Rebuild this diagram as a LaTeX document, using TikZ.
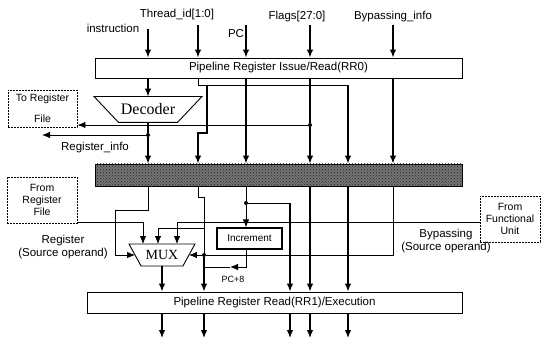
\documentclass[tikz,border=0pt]{standalone}
\usepackage{fontspec}
\setmainfont{Liberation Serif}
\setsansfont{Liberation Sans}
\usepackage{tikz}
\usetikzlibrary{arrows.meta}
\usetikzlibrary{calc, patterns}
\tikzstyle{reg}=[rectangle, draw, minimum height=20pt, inner sep=0pt]
\tikzstyle{ext}=[rectangle, draw, dash pattern=on 2pt off 1pt, align=center, inner sep=0pt, font=\sffamily\fontsize{10.5}{12}\selectfont]
\tikzstyle{junction}=[circle, fill, inner sep=0pt, minimum size=4pt]
\tikzstyle{bus}=[->, line width=1.3pt]

\begin{document}
\begin{tikzpicture}[x=1pt, y=-1pt]

\tikzset{>={Latex[length=8pt, width=6.5pt]}}
\tikzset{every node/.style={font=\sffamily\fontsize{11.5pt}{13pt}\selectfont}}
\tikzset{every path/.style={line width=0.9pt}}

\useasboundingbox (0,0) rectangle (542,345);

% Pipeline registers
\node[reg, minimum width=367pt] (rrzero) at (278.5,68) {Pipeline Register Issue/Read(RR0)};
\node[reg, minimum width=367pt, minimum height=22pt, fill=black!55,
      postaction={pattern=crosshatch dots, pattern color=black!85}] (bar) at (278.5,175) {};
\node[reg, minimum width=375pt, minimum height=21pt] (rrone) at (274.5,302.5) {Pipeline Register Read(RR1)/Execution};

% Decoder and MUX
\node[minimum width=58pt, minimum height=25pt, inner sep=0pt,
      font=\rmfamily\fontsize{16}{16}\selectfont] (decoder) at (148,109.5) {Decoder};
\draw (decoder.south west) -- (decoder.south east) -- ($(decoder.north east)+(24.5,0)$)
      -- ($(decoder.north west)+(-24.5,0)$) -- cycle;
\node[minimum width=41pt, minimum height=21pt, inner sep=0pt,
      font=\rmfamily\fontsize{14}{14}\selectfont] (mux) at (162,255) {MUX};
\draw (mux.south west) -- (mux.south east) -- ($(mux.north east)+(12,0)$)
      -- ($(mux.north west)+(-12,0)$) -- cycle;
\coordinate (muxl) at ($(mux.west)+(-6,0)$);
\coordinate (muxr) at ($(mux.east)+(6,0)$);
\node[draw, line width=1.2pt, minimum width=65pt, minimum height=21pt, inner sep=0pt,
      font=\sffamily\fontsize{10}{10}\selectfont] (incr) at (249.5,238.5) {Increment};

% Outside units
\node[ext, minimum width=69pt, minimum height=37pt] (toreg) at (42.5,108.5) {To Register\\[9pt]File};
\node[ext, minimum width=70pt, minimum height=46pt] (fromreg) at (42,200) {From\\Register\\File};
\node[ext, minimum width=60pt, minimum height=46pt] (fromfu) at (510,219) {From\\Functional\\Unit};

% Labels
\node (lblinst) at (113,28) {instruction};
\node (lbltid) at (177,15) {Thread\_id[1:0]};
\node (lblpc) at (236,34) {PC};
\node (lblflags) at (297,17) {Flags[27:0]};
\node (lblbyp) at (393,17) {Bypassing\_info};
\node (lblrinfo) at (95,148) {Register\_info};
\node[align=center] (lblreg) at (63,247) {Register\\(Source operand)};
\node[align=center] (lblfu) at (446,241) {Bypassing\\(Source operand)};
\node[font=\sffamily\fontsize{9}{9}\selectfont] (lblpceight) at (233,279) {PC+8};

% Inputs of RR0
\coordinate (inst) at (148,29);
\coordinate (tid) at (198,25);
\coordinate (pc) at (246,25);
\coordinate (flags) at (310,25);
\coordinate (byp) at (393,25);
\draw[bus] (inst) -- (inst |- rrzero.north);
\draw[bus] (tid) -- (tid |- rrzero.north);
\draw[bus] (pc) -- (pc |- rrzero.north);
\draw[bus] (flags) -- (flags |- rrzero.north);
\draw[bus] (byp) -- (byp |- rrzero.north);

% RR0 -> bar
\node[junction] (rinfo) at (148,135) {};
\node[junction] (fjoin) at (310,125) {};
\coordinate (tcorner) at (348,85);
\coordinate (tjog) at (207,133);
\coordinate (rinfoend) at (42,135);
\draw[bus] (inst |- rrzero.south) -- (decoder.north); % instruction -> decoder
\draw[bus] (decoder.south) -- (rinfo) -- (rinfo |- bar.north);
\draw[->] (rinfo) -- (rinfoend); % register_info
\draw (tid |- rrzero.south) |- (tcorner); % thread_id
\draw[bus] (tcorner) -- (tcorner |- bar.north);
\draw[bus] (tjog |- tcorner) -- (tjog) -| (tid |- bar.north);
\draw[bus] (pc |- rrzero.south) -- (pc |- bar.north); % pc
\draw[bus] (flags |- rrzero.south) -- (fjoin) -- (flags |- bar.north); % flags
\draw[->] (fjoin) -- (fjoin -| toreg.east); % flags -> register file
\draw[bus] (byp |- rrzero.south) -- (byp |- bar.north); % bypassing_info

% bar -> MUX / Increment
\coordinate (regsrc) at (115,210);
\coordinate (rfdrop) at (143,222);
\coordinate (fudrop) at (177,222);
\coordinate (bjog) at (204,197);
\coordinate (bdrop) at (158,228);
\coordinate (pcright) at (290,203);
\coordinate (pceight) at (246,267);
\coordinate (pcmid) at (230,267);
\node[junction] (mjoin) at (204,255) {};
\node[junction] (pcjoin) at (246,203) {};
\draw[->] (rinfo |- bar.south) |- (regsrc) |- (muxl); % register operand
\draw[->] (rfdrop -| fromreg.east) -- (rfdrop) -- (rfdrop |- mux.north); % from register file
\draw[->] (fromfu.west |- fudrop) -- (fudrop) -- (fudrop |- mux.north); % from functional unit
\draw (tid |- bar.south) |- (bjog) -- (mjoin);
\draw[->] (bjog |- bdrop) -- (bdrop) -- (bdrop |- mux.north);
\draw (byp |- bar.south) |- (mjoin); % bypassing
\draw[->] (mjoin) -- (muxr);
\draw (pc |- bar.south) -- (pcjoin);
\draw[->] (pcjoin) -- (pcjoin |- incr.north); % pc -> increment
\draw[->] (pceight |- incr.south) -- (pceight) -- (pcmid); % pc+8
\draw (pcmid) -- (pcmid -| mjoin);

% -> RR1
\draw[bus] (mux.south) -- (mux.south |- rrone.north);
\draw[bus] (mjoin) -- (mjoin |- rrone.north);
\draw (pcjoin) -- (pcright);
\draw[bus] (pcright) -- (pcright |- rrone.north);
\draw[bus] (flags |- bar.south) -- (flags |- rrone.north);
\draw[bus] (tcorner |- bar.south) -- (tcorner |- rrone.north);

% RR1 outputs
\coordinate (outend) at (0,338);
\draw[bus] (mux.south |- rrone.south) -- (mux.south |- outend);
\draw[bus] (mjoin |- rrone.south) -- (mjoin |- outend);
\draw[bus] (pcright |- rrone.south) -- (pcright |- outend);
\draw[bus] (flags |- rrone.south) -- (flags |- outend);
\draw[bus] (tcorner |- rrone.south) -- (tcorner |- outend);

\end{tikzpicture}
\end{document}
